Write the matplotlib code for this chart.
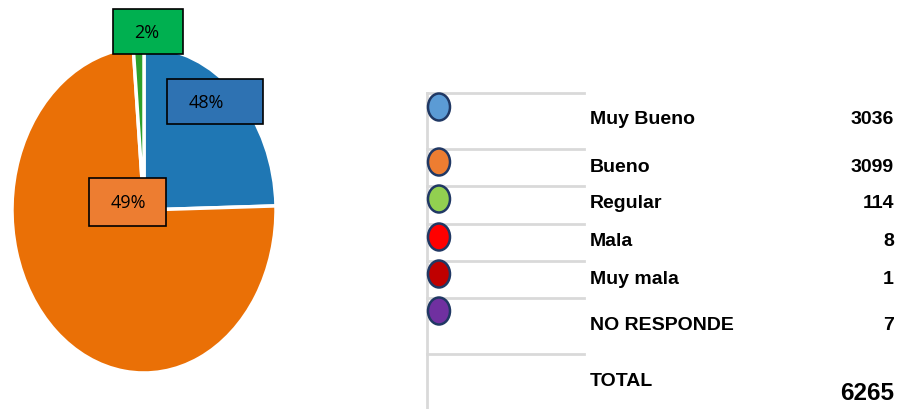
import matplotlib.pyplot as plt
from matplotlib.patches import Ellipse, Rectangle

# données
categories = ["Muy Bueno", "Bueno", "Regular", "Mala", "Muy mala", "NO RESPONDE"]
counts = [3036, 3099, 114, 8, 1, 7]
marker_colors = ["#5B9BD5", "#ED7D31", "#92D050", "#FF0000", "#C00000", "#7030A0"]

# parts telles que dessinées dans le camembert (Muy Bueno, Bueno, Regular)
pie_shares = [24.6, 74.1, 1.3]
pie_colors = ["#1F77B4", "#EA7006", "#2CA02C"]
pct_labels = ["48%", "49%", "2%"]
pct_box_colors = ["#2E72B2", "#ED7D31", "#00B050"]

W, H = 899, 409
fig = plt.figure(figsize=(W / 100, H / 100), dpi=100)

# camembert ovale
x0, x1, y0, y1 = 12, 276, 47, 373
ax = fig.add_axes([x0 / W, 1 - y1 / H, (x1 - x0) / W, (y1 - y0) / H])
ax.pie(pie_shares, colors=pie_colors, startangle=90, counterclock=False,
       wedgeprops=dict(edgecolor="white", linewidth=2.5))
ax.set_aspect("auto")
ax.set_xlim(-1, 1)
ax.set_ylim(-1, 1)
for w in ax.patches:
    w.set_clip_on(False)

# calque en pixels pour le tableau et les étiquettes
ov = fig.add_axes([0, 0, 1, 1])
ov.set_xlim(0, W)
ov.set_ylim(H, 0)
ov.axis("off")
ov.patch.set_alpha(0)

# étiquettes %
label_boxes = [(167, 79, 263, 124, 206), (89, 178, 166, 226, 128), (113, 9, 183, 54, 147)]
for (bx0, by0, bx1, by1, tx), txt, col in zip(label_boxes, pct_labels, pct_box_colors):
    ov.add_patch(Rectangle((bx0, by0), bx1 - bx0, by1 - by0, facecolor=col,
                           edgecolor="black", linewidth=1.2))
    ov.text(tx, (by0 + by1) / 2 + 1, txt, ha="center", va="center",
            fontsize=13, family="Open Sans", color="black")

# tableau à droite
ov.plot([427, 427], [93, 409], color="#D9D9D9", linewidth=2, zorder=1)
for y in [93, 149, 186, 224, 261, 298, 354]:
    ov.plot([427, 584], [y, y], color="#D9D9D9", linewidth=2, zorder=1)

circle_y = [107, 162, 199, 237, 274, 311]
for cy, col in zip(circle_y, marker_colors):
    ov.add_patch(Ellipse((439, cy), 22, 27, facecolor=col, edgecolor="#203864",
                         linewidth=1.8, zorder=3))

fs = 14
row_y = [120, 167, 204, 242, 279, 326]
for cat, n, ry in zip(categories, counts, row_y):
    ov.text(590, ry, cat, ha="left", va="center", fontsize=fs, fontweight="bold",
            family="Liberation Sans")
    ov.text(894, ry, str(n), ha="right", va="center", fontsize=fs, fontweight="bold",
            family="Liberation Sans")

ov.text(590, 382, "TOTAL", ha="left", va="center", fontsize=fs, fontweight="bold",
        family="Liberation Sans")
ov.text(894, 393, str(sum(counts)), ha="right", va="center", fontsize=17.5, fontweight="bold",
        family="Liberation Sans")

fig.savefig("out.png", dpi=100)
